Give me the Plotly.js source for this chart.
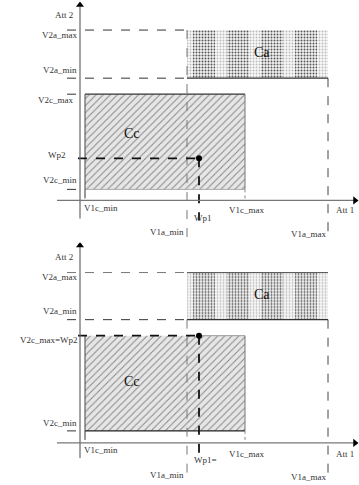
<!DOCTYPE html>
<html>
<head>
<meta charset="utf-8">
<script src="https://cdn.plot.ly/plotly-3.0.1.min.js"></script>
<style>html,body{margin:0;padding:0;background:#fff;}#chart{width:359px;height:485px;}</style>
</head>
<body>
<div id="chart"></div>
<script>
// ---- data (abstract units) ----
const panels = ['top', 'bottom'];
const V1c = [0.5, 16.5];          // V1c_min, V1c_max
const V1a = [10.7, 24.8];         // V1a_min, V1a_max
const Wp1 = [11.9, 11.9];         // Wp1 per panel
const V2c = [[1.1, 10.6], [1.2, 10.7]];   // V2c_min, V2c_max per panel
const V2a = [[12.2, 17.0], [12.3, 17.0]]; // V2a_min, V2a_max per panel
const Wp2 = [4.2, 10.7];          // Wp2 per panel
const axisX = [-2.3, 27.5];
const axisY = [[-1.8, 19.5], [-1.5, 19.7]];
const yLabelsLeft = [
  ['Att 2', 'V2a_max', 'V2a_min', 'V2c_max', 'Wp2', 'V2c_min'],
  ['Att 2', 'V2a_max', 'V2a_min', 'V2c_max=Wp2', 'V2c_min']
];
const xLabels = [
  ['V1c_min', 'Wp1', 'V1c_max', 'Att 1', 'V1a_min', 'V1a_max'],
  ['V1c_min', 'Wp1=', 'V1c_max', 'Att 1', 'V1a_min', 'V1a_max']
];
const regionNames = ['Ca', 'Cc'];

const traces = [];
const annotations = [];
const serif = 'Liberation Serif, Times New Roman, serif';

function line(p, xs, ys, color, width, dash) {
  traces.push({type: 'scatter', mode: 'lines', x: xs, y: ys,
    xaxis: p === 0 ? 'x' : 'x2', yaxis: p === 0 ? 'y' : 'y2',
    line: {color: color, width: width, dash: dash || 'solid'}, hoverinfo: 'skip'});
}
function marker(p, x, y, sym, size, color) {
  traces.push({type: 'scatter', mode: 'markers', x: [x], y: [y],
    xaxis: p === 0 ? 'x' : 'x2', yaxis: p === 0 ? 'y' : 'y2',
    marker: {symbol: sym, size: size, color: color}, hoverinfo: 'skip'});
}
function rect(p, x0, x1, y0, y1, pattern) {
  traces.push({type: 'scatter', mode: 'lines', x: [x0, x1, x1, x0, x0], y: [y0, y0, y1, y1, y0],
    xaxis: p === 0 ? 'x' : 'x2', yaxis: p === 0 ? 'y' : 'y2',
    fill: 'toself', fillcolor: pattern.bgcolor, fillpattern: pattern,
    line: {width: 0, color: 'rgba(0,0,0,0)'}, hoverinfo: 'skip'});
}
function label(p, x, y, text, anchor, size, color) {
  annotations.push({xref: p === 0 ? 'x' : 'x2', yref: p === 0 ? 'y' : 'y2', x: x, y: y,
    text: text, showarrow: false, xanchor: anchor, yanchor: 'middle',
    font: {family: serif, size: size || 9, color: color || '#333'}});
}

const caPattern = {shape: '.', fgcolor: '#555', bgcolor: '#f4f4f4', size: 3, solidity: 0.35};
const caBands = {shape: '|', fgcolor: 'rgba(255,255,255,0.6)', bgcolor: 'rgba(255,255,255,0)', size: 34, solidity: 0.35};
const ccPattern = {shape: '/', fgcolor: '#888', bgcolor: '#e6e6e6', size: 5, solidity: 0.2};

panels.forEach((name, p) => {
  const [c2min, c2max] = V2c[p];
  const [a2min, a2max] = V2a[p];
  // regions
  rect(p, V1a[0], V1a[1], a2min, a2max, caPattern);
  rect(p, V1a[0], V1a[1], a2min, a2max, caBands);
  rect(p, V1c[0], V1c[1], c2min, c2max, ccPattern);
  // Ca borders
  line(p, [V1a[0], V1a[1]], [a2min, a2min], '#333', 1.2);
  if (p === 1) line(p, [V1a[0], V1a[1]], [a2max, a2max], '#555', 1);
  // Cc borders
  if (p === 0) {
    line(p, [V1c[0], V1c[1]], [c2max, c2max], '#333', 1.2);
    line(p, [V1c[0], V1c[1]], [c2min, c2min], '#aaa', 1);
  } else {
    line(p, [Wp1[p], V1c[1]], [c2max, c2max], '#999', 1);
    line(p, [V1c[0], V1c[1]], [c2min, c2min], '#222', 1.3);
  }
  line(p, [V1c[0], V1c[0]], [c2min, c2max], '#444', 1);
  line(p, [V1c[1], V1c[1]], [c2min, c2max], '#777', 1);
  // guide dashed lines
  line(p, [-1.3, V1a[0]], [a2max, a2max], p === 0 ? '#333' : '#777', 1, 'dash');
  line(p, [-1.3, V1a[0]], [a2min, a2min], '#333', 1, 'dash');
  line(p, [V1a[0], V1a[0]], [p === 0 ? a2max : a2min, -3.8], '#777', 1, 'dash');
  line(p, [V1a[1], V1a[1]], [a2min, -3.6], '#444', 1, 'dash');
  line(p, [-1.3, V1c[0]], [c2min, c2min], '#333', 1, 'dash');
  if (p === 0) line(p, [-1.3, V1c[0]], [c2max, c2max], '#333', 1, 'dash');
  line(p, [V1c[0], V1c[0]], [c2min, -0.3], '#333', 1, 'dash');
  line(p, [V1c[1], V1c[1]], [c2min, 0], '#888', 1, 'dot');
  // operating point
  line(p, [-0.2, Wp1[p]], [Wp2[p], Wp2[p]], '#111', 1.8, 'dash');
  line(p, [Wp1[p], Wp1[p]], [Wp2[p], p === 0 ? -2.0 : -1.0], '#111', 1.8, 'dash');
  marker(p, Wp1[p], Wp2[p], 'circle', 6, '#000');
  // axes
  line(p, [0, 0], axisY[p], '#666', 1.2);
  line(p, axisX, [0, 0], '#777', 1.2);
  marker(p, 0, axisY[p][1], 'triangle-up', 7, '#000');
  marker(p, axisX[1], 0, 'triangle-right', 7, '#000');

  // labels on the vertical axis
  const yl = yLabelsLeft[p];
  if (p === 0) {
    label(p, -0.5, 18.5, yl[0], 'right');
    label(p, -0.1, 16.5, yl[1], 'right');
    label(p, -0.1, 13.0, yl[2], 'right');
    label(p, -0.5, 10.0, yl[3], 'right');
    label(p, -1.2, 4.5, yl[4], 'right');
    label(p, -0.1, 2.0, yl[5], 'right');
  } else {
    label(p, -0.5, 18.6, yl[0], 'right');
    label(p, -0.1, 16.6, yl[1], 'right');
    label(p, -0.1, 13.2, yl[2], 'right');
    label(p, 0.0, 10.3, yl[3], 'right');
    label(p, -0.1, 2.0, yl[4], 'right');
  }
  // labels along the horizontal axis
  const xl = xLabels[p];
  const dy = p === 0 ? 0 : 0.1;
  label(p, 0.2, -0.8 + dy, xl[0], 'left');
  label(p, p === 0 ? 12.3 : 12.5, -1.8 + dy, xl[1], 'center');
  label(p, 16.6, -1.0 - dy, xl[2], 'center');
  label(p, 26.5, -1.0 - dy, xl[3], 'center');
  label(p, 8.7, -3.2, xl[4], 'center');
  label(p, 22.8, -3.4, xl[5], 'center');
  // region names
  label(p, 18.2, 14.8, regionNames[0], 'center', 14, '#111');
  label(p, 5.2, p === 0 ? 6.7 : 6.1, regionNames[1], 'center', 14, '#111');
});

const layout = {
  width: 359, height: 485,
  margin: {l: 0, r: 0, t: 0, b: 0},
  paper_bgcolor: '#fff', plot_bgcolor: '#fff',
  showlegend: false,
  xaxis: {domain: [0, 1], range: [-8, 27.9], visible: false, anchor: 'y', fixedrange: true},
  yaxis: {domain: [0.5, 1], range: [-4.2, 20], visible: false, anchor: 'x', fixedrange: true},
  xaxis2: {domain: [0, 1], range: [-8, 27.9], visible: false, anchor: 'y2', fixedrange: true},
  yaxis2: {domain: [0, 0.5], range: [-4.2, 20], visible: false, anchor: 'x2', fixedrange: true},
  annotations: annotations
};
Plotly.newPlot('chart', traces, layout, {staticPlot: true});
</script>
</body>
</html>
